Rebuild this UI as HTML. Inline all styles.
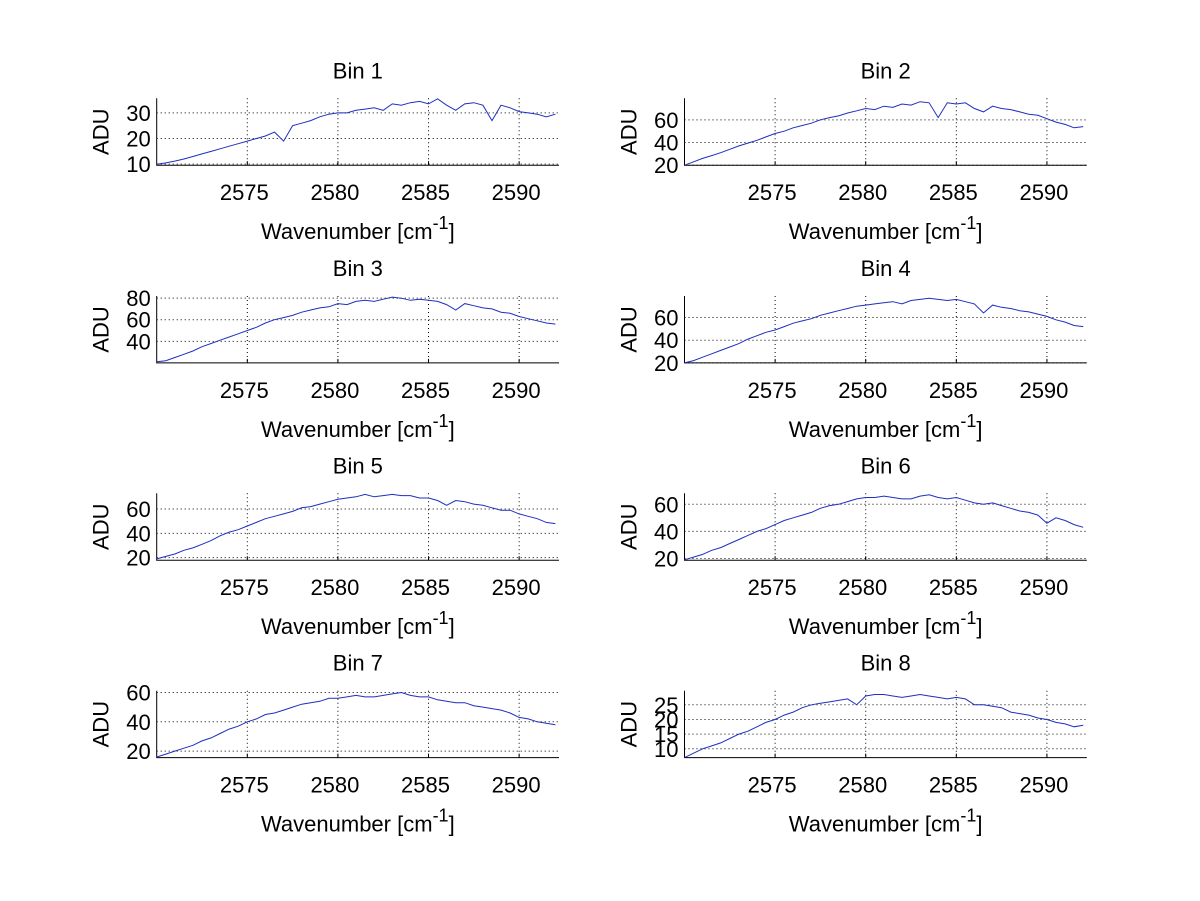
<!DOCTYPE html>
<html><head><meta charset="utf-8"><style>
body{margin:0;background:#fff}
svg{display:block}
text{font-family:"Liberation Sans",Arial,sans-serif;font-size:22px;fill:#000}
</style></head><body>
<svg id="fig" width="1200" height="901" xmlns="http://www.w3.org/2000/svg"></svg>
<script>
const xStart = 2570, xStepVal = 0.5;
const xTicks = [2575, 2580, 2585, 2590];
const titles = ["Bin 1","Bin 2","Bin 3","Bin 4","Bin 5","Bin 6","Bin 7","Bin 8"];
const bin1 = [10,10.5,11.2,12,13,14,15,16,17,18,19,20,21,22.5,19,25,26,27,28.5,29.5,30,30,31,31.5,32,31,33.5,33,34,34.5,33.5,35.5,33,31,33.5,34,33,27,33,32,30.5,30,29.5,28.5,29.5];
const bin2 = [20,23,26,28.5,31,34,37,39.5,42,45,48,50,53,55,57,60,62,63.5,66,68,70,69,72,71,74,73,76,75,62,75,74,75,70,67,72,70,69,67,65,64,61,58,56,53,54];
const bin3 = [21,22,25,28,31,35,38,41,44,47,50,53,57,60,62,64,67,69,71,72,75,74,77,78,77,79,81,80,78,79,78,77,74,69,75,73,71,70,67,66,63,61,59,57,56];
const bin4 = [20,22,25,28,31,34,37,41,44,47,49,52,55,57,59,62,64,66,68,70,71,72,73,74,72,75,76,77,76,75,76,74,72,64,71,69,68,66,65,63,61,58,56,53,52];
const bin5 = [19,21,23,26,28,31,34,38,41,43,46,49,52,54,56,58,61,62,64,66,68,69,70,72,70,71,72,71,71,69,69,67,63,67,66,64,63,61,59,59,56,54,52,49,48];
const bin6 = [19,21,23,26,28,31,34,37,40,42,45,48,50,52,54,57,59,60,62,64,65,65,66,65,64,64,66,67,65,64,65,63,61,60,61,59,57,55,54,52,46,50,48,45,43];
const bin7 = [16,18,20,22,24,27,29,32,35,37,40,42,45,46,48,50,52,53,54,56,56,57,58,57,57,58,59,60,58,57,57,55,54,53,53,51,50,49,48,46,43,42,40,39,38];
const bin8 = [7,8.5,10,11,12,13.5,15,16,17.5,19,20,21.5,22.5,24,25,25.5,26,26.5,27,25,28,28.5,28.5,28,27.5,28,28.5,28,27.5,27,27.5,27,25,25,24.5,24,22.5,22,21.5,20.5,20,19,18.5,17.5,18];
const yLims = [[9.6,35.7],[20,79],[20,82],[20,79],[17.9,72.9],[18.7,68.1],[15.6,61.2],[7,29.8]];
const yTicks = [[10,20,30],[20,40,60],[40,60,80],[20,40,60],[20,40,60],[20,40,60],[20,40,60],[10,15,20,25]];
const series = [bin1,bin2,bin3,bin4,bin5,bin6,bin7,bin8];

const NS="http://www.w3.org/2000/svg";
const svg=document.getElementById('fig');
function mk(tag,attrs,parent){const e=document.createElementNS(NS,tag);for(const k in attrs)e.setAttribute(k,attrs[k]);(parent||svg).appendChild(e);return e;}
const xMin=2570,xMax=2592.2;
const colLeft=[156.7,684.5], axW=402.3, rowTop=[98.3,296,493.3,690.7], axH=66.9;

for(let i=0;i<8;i++){
  const L=colLeft[i%2], T=rowTop[Math.floor(i/2)], B=T+axH, R=L+axW;
  const [y0,y1]=yLims[i];
  const sx=v=>L+(v-xMin)/(xMax-xMin)*axW;
  const sy=v=>B-(v-y0)/(y1-y0)*axH;
  const g=mk('g',{});
  
  
  xTicks.forEach(t=>{const l=mk('line',{x1:sx(t),x2:sx(t),y1:T,y2:B,stroke:'#000','stroke-width':1,'stroke-dasharray':'1,3'},g);
    
    const tk=mk('line',{x1:sx(t),x2:sx(t),y1:B,y2:B-4,stroke:'#000'},g);
    
    const tx=mk('text',{x:sx(t)-3,y:B+35,'text-anchor':'middle'},g);tx.textContent=t;
    });
  yTicks[i].forEach(t=>{const l=mk('line',{x1:L,x2:R,y1:sy(t),y2:sy(t),stroke:'#000','stroke-width':1,'stroke-dasharray':'1,3'},g);
    
    const tx=mk('text',{x:L-6,y:sy(t)+8,'text-anchor':'end'},g);tx.textContent=t;
    });
  const ax=mk('path',{d:`M${L},${T}V${B}H${R}`,fill:'none',stroke:'#000','stroke-width':1},g);
  
  const pts=series[i].map((v,j)=>sx(xStart+j*xStepVal).toFixed(1)+','+sy(v).toFixed(1)).join(' ');
  const pl=mk('polyline',{points:pts,fill:'none',stroke:'#1f2fbf','stroke-width':1},g);
  
  const cx=L+axW/2;
  const ti=mk('text',{x:cx,y:T-20,'text-anchor':'middle'},g);ti.textContent=titles[i];
  
  const xl=mk('text',{x:cx,y:B+74,'text-anchor':'middle','font-size':'24'},g);
  xl.innerHTML='Wavenumber [cm<tspan dy="-10" font-size="18">-1</tspan><tspan dy="10">]</tspan>';
  
  const yl=mk('text',{x:0,y:0,'text-anchor':'middle','font-size':'24',transform:`translate(${L-48},${T+axH/2}) rotate(-90)`},g);yl.textContent='ADU';
  
}
</script>
</body></html>
